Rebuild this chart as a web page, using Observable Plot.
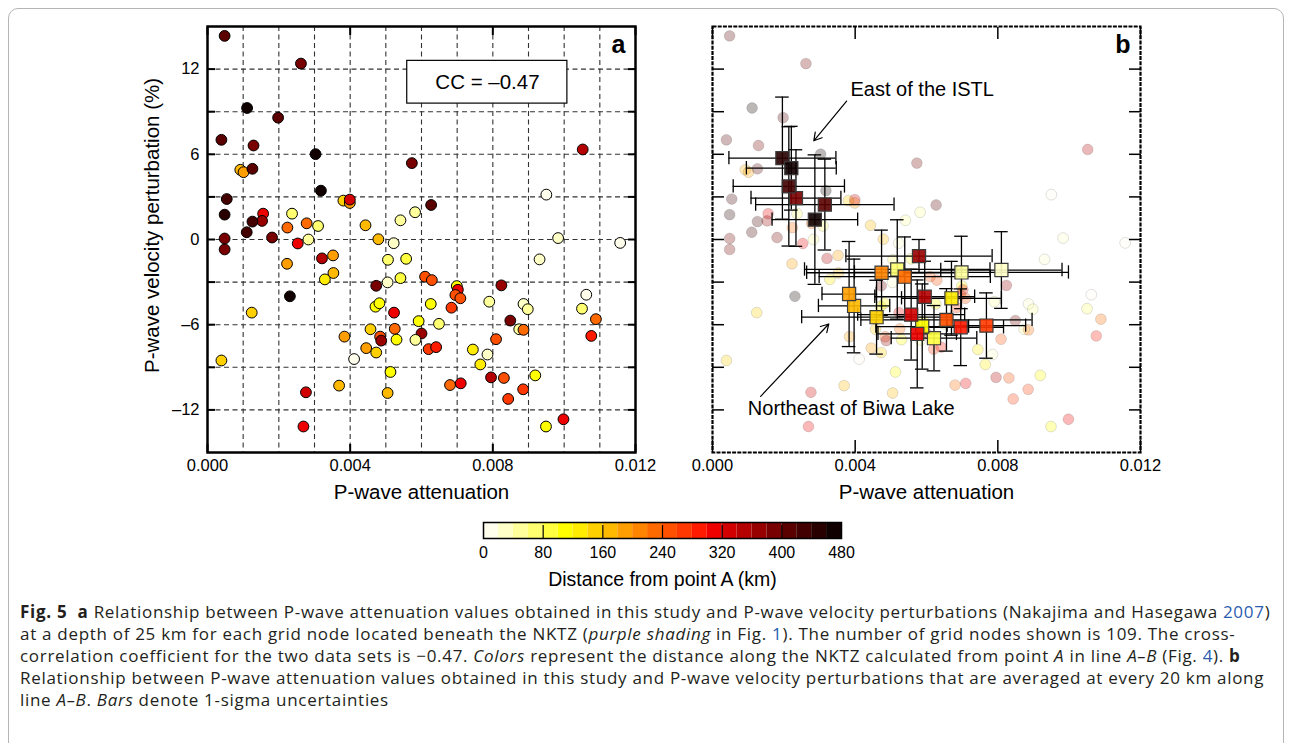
<!DOCTYPE html>
<html><head><meta charset="utf-8">
<script src="https://cdn.jsdelivr.net/npm/d3@7"></script>
<script src="https://cdn.jsdelivr.net/npm/@observablehq/plot@0.6"></script>
<style>
html,body{margin:0;padding:0;background:#fff;}
body{width:1291px;height:743px;overflow:hidden;position:relative;font-family:"Liberation Sans",Arial,sans-serif;}
#border{position:absolute;left:8px;top:8px;width:1274px;height:745px;border:1px solid #b5b5b5;border-radius:10px;}
.abs{position:absolute;}
#caption{position:absolute;left:20px;top:601px;font-family:"Open Sans",sans-serif;font-size:17px;letter-spacing:0.7px;line-height:22px;color:#231f20;white-space:nowrap;}
#caption .lk{color:#2a5db0;}
</style></head>
<body>
<div id="border"></div>
<div id="pa" class="abs" style="left:140px;top:16px;"></div>
<div id="pb" class="abs" style="left:684px;top:16px;"></div>
<div id="cb" class="abs" style="left:463px;top:518px;"></div>
<div id="caption">
<b>Fig. 5</b>&nbsp; <b>a</b> Relationship between P-wave attenuation values obtained in this study and P-wave velocity perturbations (Nakajima and Hasegawa <span class="lk">2007</span>)<br>
at a depth of 25 km for each grid node located beneath the NKTZ (<i>purple shading</i> in Fig. <span class="lk">1</span>). The number of grid nodes shown is 109. The cross-<br>
correlation coefficient for the two data sets is −0.47. <i>Colors</i> represent the distance along the NKTZ calculated from point <i>A</i> in line <i>A–B</i> (Fig. <span class="lk">4</span>). <b>b</b><br>
Relationship between P-wave attenuation values obtained in this study and P-wave velocity perturbations that are averaged at every 20 km along<br>
line <i>A–B</i>. <i>Bars</i> denote 1-sigma uncertainties
</div>
<script>
// ---- Panel a: grid-node values (109 nodes) ----
const attenuation = [0.00048,0.00262,0.00111,0.00198,0.00039,0.00129,0.00303,0.00092,0.00101,0.00126,0.00318,0.00054,0.00381,0.00399,0.00399,0.00048,0.00156,0.00153,0.00126,0.00237,0.00224,0.00278,0.0031,0.00443,0.0011,0.00181,
0.00573,0.01052,0.0095,0.00627,0.00582,0.00541,0.00983,0.01157,
0.00557,0.00541,0.00931,0.0061,0.00629,0.00699,0.00702,0.00695,0.00709,0.00824,0.00626,0.00684,0.0079,0.00886,0.00898,0.01062,0.0105,0.01089,0.01076,0.00592,0.00649,0.006,0.00583,0.00849,0.00874,0.00886,0.00809,0.0062,0.00641,0.00744,0.00785,0.00765,0.00919,0.0068,0.0071,0.00795,0.00831,0.00885,0.00843,0.00998,0.00949,
0.00048,0.00048,0.00253,0.00283,0.00223,0.00321,0.00352,0.00353,0.00329,0.00231,0.00124,0.00039,0.00276,0.00269,0.00479,0.00522,0.00506,0.00505,0.00473,0.00471,0.00482,0.00523,0.00457,0.00484,0.00487,0.00525,0.0053,0.00384,0.00445,0.00473,0.00411,0.00513,0.00369,0.00505];
const velocity = [14.34,12.39,9.26,8.58,7.02,6.62,6.01,4.91,4.74,4.98,3.44,2.85,2.74,2.57,2.81,1.75,1.82,1.31,1.26,1.82,0.84,1.14,0.95,1.0,0.51,0.14,
5.38,6.34,3.16,2.43,1.92,1.35,0.1,-0.24,
-1.36,-2.72,-1.4,-2.62,-2.86,-3.28,-3.54,-3.91,-4.14,-3.23,-4.54,-4.8,-4.38,-4.54,-4.91,-3.89,-4.87,-5.61,-6.79,-5.75,-5.94,-6.62,-7.07,-5.71,-6.32,-6.36,-7.02,-7.72,-7.58,-7.75,-8.1,-8.8,-9.57,-10.25,-10.13,-9.71,-9.75,-10.55,-11.23,-12.66,-13.17,
0.07,-0.7,-0.28,0.0,-1.71,-1.33,-1.12,-2.36,-2.81,-4.0,-5.15,-8.52,-10.76,-13.17,0.02,-0.26,-1.43,-3.02,-3.26,-4.73,-4.49,-5.15,-6.32,-6.84,-7.12,-6.29,-7.05,-6.84,-7.65,-7.96,-8.42,-9.33,-10.29,-10.81];
const distance = [410,390,470,410,410,390,470,170,190,410,470,430,150,190,330,450,310,370,430,70,230,230,70,170,430,390,
390,350,10,410,50,50,30,10,
90,90,30,250,250,110,310,250,250,370,110,270,50,30,50,10,70,230,290,110,70,370,50,390,50,230,250,270,290,130,30,130,110,230,310,350,250,270,270,310,110,
390,390,310,50,190,350,190,170,130,470,150,150,330,310,170,30,70,30,390,110,110,310,150,250,370,230,110,190,190,150,10,110,170,170];

// ---- Panel b: 20-km averages with 1-sigma uncertainties ----
const avgDistance = [30,50,70,90,110,130,150,170,190,210,230,250,270,290,310,330,350,370,390,410,430,450,470,470];
const avgAttenuation = [0.0081,0.00698,0.00518,0.00621,0.00588,0.0067,0.0046,0.00397,0.00383,0.00474,0.00539,0.00656,0.00768,0.00696,0.00574,0.00557,0.00595,0.00579,0.00234,0.00315,0.00214,0.00196,0.00287,0.00221];
const avgVelocity = [-2.15,-2.32,-2.11,-6.95,-6.13,-4.14,-5.47,-4.68,-3.84,-2.34,-2.62,-5.66,-6.06,-6.18,-6.65,-5.29,-4.03,-1.17,2.92,2.46,3.74,5.73,1.40,5.02];
const attenuationErr = [0.0017,0.003,0.0026,0.0012,0.0013,0.0014,0.0021,0.001,0.00076,0.0021,0.0024,0.0024,0.0011,0.0012,0.0011,0.0015,0.0014,0.00205,0.00126,0.00194,0.00156,0.0015,0.0012,0.00126];
const velocityErr = [2.7,2.55,3.5,2.3,3.0,2.6,2.6,3.3,3.7,3.0,2.8,2.2,2.3,2.7,3.8,3.2,2.5,1.17,3.4,3.2,4.2,4.3,4.56,2.95];

// ---- colour scale (distance from point A, km) ----
const distanceThresholds = [20,40,60,80,100,120,140,160,180,200,220,240,260,280,300,320,340,360,380,400,420,440,460];
const distancePalette = ["#fffdec","#ffffc8","#ffff9c","#ffff70","#ffff40","#ffff00","#ffec00","#ffd000","#ffba00","#ff9e00","#ff8400","#ff6a00","#ff5000","#ff3800","#ff1a00","#ee0000","#d20000","#b40000","#980000","#780000","#5a0000","#420000","#280000","#100000"];
const colorTicks = [0,80,160,240,320,400,480];

// ---- axis ticks ----
const xLabelTicks = [0,0.004,0.008,0.012];
const yLabelTicks = [-12,-6,0,6,12];
const yMinorTicks = [-12,-9,-6,-3,0,3,6,9,12];
const xGrid = [0.001,0.002,0.003,0.004,0.005,0.006,0.007,0.008,0.009,0.010,0.011];
const yGrid = [-12,-9,-6,-3,0,3,6,9,12];

const points = attenuation.map((a,i)=>({a, v: velocity[i], d: distance[i]}));
const avg = avgDistance.map((d,i)=>({d, a: avgAttenuation[i], v: avgVelocity[i], ea: attenuationErr[i], ev: velocityErr[i]}));

const color = {type:"threshold", domain: distanceThresholds, range: distancePalette};
const font = "Liberation Sans, Arial, Helvetica, sans-serif";
const fmtX = d3.format(".3f");
const fmtY = d => d < 0 ? "\u2013" + Math.abs(d) : String(d);
const blank = () => "";
const capA = 0.00019, capV = 0.47;

const common = {
  height: 494, marginTop: 10, marginBottom: 58,
  x: {domain: [0, 0.012]},
  y: {domain: [-15, 15]},
  color,
  style: {fontFamily: font, fontSize: "16.5px", color: "#000", background: "transparent", overflow: "visible"}
};

const pa = Plot.plot({
  ...common,
  width: 523, marginLeft: 67, marginRight: 28,
  marks: [
    Plot.ruleX(xGrid, {stroke: "#333", strokeWidth: 1.1, strokeDasharray: "5,3.5"}),
    Plot.ruleY(yGrid, {stroke: "#333", strokeWidth: 1.1, strokeDasharray: "5,3.5"}),
    Plot.rect([0], {x1: 0.0056, x2: 0.01009, y1: 9.57, y2: 12.58, fill: "white", stroke: "#000", strokeWidth: 1.2}),
    Plot.text(["CC = \u20130.47"], {x: 0.00785, y: 11.05, fontSize: 20.5}),
    Plot.dot(points, {x: "a", y: "v", fill: "d", stroke: "#000", strokeWidth: 1, r: 5.4}),
    Plot.axisX(xLabelTicks, {anchor: "bottom", tickSize: -8, strokeWidth: 2, tickFormat: blank, label: null}),
    Plot.axisX(xLabelTicks, {anchor: "top", tickSize: -8, strokeWidth: 2, tickFormat: blank, label: null}),
    Plot.axisY(yMinorTicks, {anchor: "left", tickSize: -8, strokeWidth: 2, tickFormat: blank, label: null}),
    Plot.axisY(yMinorTicks, {anchor: "right", tickSize: -8, strokeWidth: 2, tickFormat: blank, label: null}),
    Plot.axisX(xLabelTicks, {anchor: "bottom", tickSize: 0, tickPadding: 7, tickFormat: fmtX, label: null}),
    Plot.axisY(yLabelTicks, {anchor: "left", tickSize: 0, tickPadding: 8, tickFormat: fmtY, label: null}),
    Plot.frame({stroke: "#000", strokeWidth: 2.5}),
    Plot.text(["a"], {frameAnchor: "top-right", dx: -10, dy: 9, fontSize: 25, fontWeight: "bold", lineAnchor: "top"}),
    Plot.text(["P-wave attenuation"], {frameAnchor: "bottom", dy: 46, fontSize: 20.5}),
    Plot.text(["P-wave velocity perturbation (%)"], {frameAnchor: "left", textAnchor: "middle", rotate: -90, dx: -55, dy: -14, fontSize: 20.5})
  ]
});
document.getElementById("pa").appendChild(pa);

const pb = Plot.plot({
  ...common,
  width: 484, marginLeft: 28, marginRight: 28,
  marks: [
    Plot.dot(points, {x: "a", y: "v", fill: "d", stroke: "#000", strokeWidth: 1, r: 5.4, fillOpacity: 0.28, strokeOpacity: 0.12}),
    Plot.ruleY(avg, {y: "v", x1: d => d.a - d.ea, x2: d => d.a + d.ea, stroke: "#000", strokeWidth: 1.3}),
    Plot.ruleX(avg, {x: "a", y1: d => d.v - d.ev, y2: d => d.v + d.ev, stroke: "#000", strokeWidth: 1.3}),
    Plot.ruleX(avg, {x: d => d.a - d.ea, y1: d => d.v - capV, y2: d => d.v + capV, stroke: "#000", strokeWidth: 1.3}),
    Plot.ruleX(avg, {x: d => d.a + d.ea, y1: d => d.v - capV, y2: d => d.v + capV, stroke: "#000", strokeWidth: 1.3}),
    Plot.ruleY(avg, {y: d => d.v - d.ev, x1: d => d.a - capA, x2: d => d.a + capA, stroke: "#000", strokeWidth: 1.3}),
    Plot.ruleY(avg, {y: d => d.v + d.ev, x1: d => d.a - capA, x2: d => d.a + capA, stroke: "#000", strokeWidth: 1.3}),
    Plot.dot(avg, {x: "a", y: "v", symbol: "square", r: 7.4, fill: "d", fillOpacity: 0.9, stroke: "#3a3a3a", strokeWidth: 1.2}),
    Plot.text(["East of the ISTL"], {x: 0.00387, y: 10.55, textAnchor: "start", fontSize: 20}),
    Plot.arrow([0], {x1: 0.00376, y1: 9.75, x2: 0.00284, y2: 6.95, stroke: "#000", strokeWidth: 1.2, headLength: 11}),
    Plot.text(["Northeast of Biwa Lake"], {x: 0.00099, y: -11.9, textAnchor: "start", fontSize: 20}),
    Plot.arrow([0], {x1: 0.00135, y1: -11.05, x2: 0.00326, y2: -5.95, stroke: "#000", strokeWidth: 1.2, headLength: 11}),
    Plot.axisX(xLabelTicks, {anchor: "bottom", tickSize: -12, strokeWidth: 1.5, tickFormat: blank, label: null}),
    Plot.axisX(xLabelTicks, {anchor: "top", tickSize: -12, strokeWidth: 1.5, tickFormat: blank, label: null}),
    Plot.axisY(yMinorTicks, {anchor: "left", tickSize: -12, strokeWidth: 1.5, tickFormat: blank, label: null}),
    Plot.axisY(yMinorTicks, {anchor: "right", tickSize: -12, strokeWidth: 1.5, tickFormat: blank, label: null}),
    Plot.axisX(xLabelTicks, {anchor: "bottom", tickSize: 0, tickPadding: 7, tickFormat: fmtX, label: null}),
    Plot.frame({stroke: "#000", strokeWidth: 2.2, strokeDasharray: "4,1.2"}),
    Plot.text(["b"], {frameAnchor: "top-right", dx: -10, dy: 9, fontSize: 25, fontWeight: "bold", lineAnchor: "top"}),
    Plot.text(["P-wave attenuation"], {frameAnchor: "bottom", dy: 46, fontSize: 20.5})
  ]
});
document.getElementById("pb").appendChild(pb);

// ---- colour bar ----
const bins = distancePalette.map((c,i)=>({lo: i === 0 ? 0 : distanceThresholds[i-1], hi: i < distanceThresholds.length ? distanceThresholds[i] : 480}));
bins.forEach(b => b.mid = (b.lo + b.hi) / 2);
const cb = Plot.plot({
  width: 398, height: 75, marginLeft: 20, marginRight: 20, marginTop: 4, marginBottom: 55,
  x: {domain: [0, 480]},
  color,
  style: {fontFamily: font, fontSize: "16px", color: "#000", background: "transparent", overflow: "visible"},
  marks: [
    Plot.rect(bins, {x1: "lo", x2: "hi", fill: "mid"}),
    Plot.tickX(colorTicks.slice(1, -1), {insetTop: 3, stroke: "#000", strokeWidth: 1.2}),
    Plot.frame({stroke: "#000", strokeWidth: 1.5}),
    Plot.axisX(colorTicks, {anchor: "bottom", tickSize: 0, tickPadding: 8, label: null}),
    Plot.text(["Distance from point A (km)"], {frameAnchor: "bottom", dy: 47, fontSize: 19.5})
  ]
});
document.getElementById("cb").appendChild(cb);
</script>
</body></html>
